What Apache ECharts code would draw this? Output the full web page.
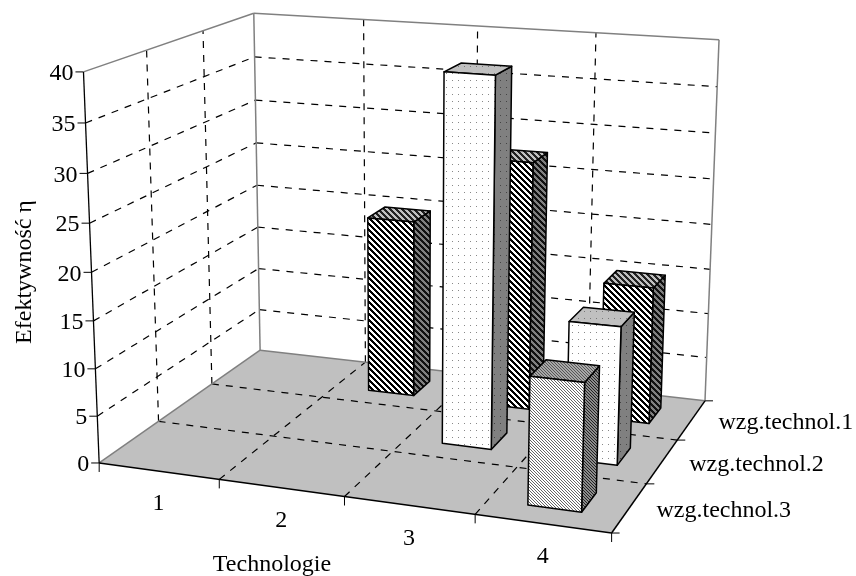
<!DOCTYPE html>
<html>
<head>
<meta charset="utf-8">
<title>Efektywność</title>
<script src="https://cdn.jsdelivr.net/npm/echarts@6/dist/echarts.min.js"></script>
<style>
  html, body { margin: 0; background: #fff; }
  #chart { width: 856px; height: 576px; }
</style>
</head>
<body>
<div id="chart"></div>
<script>
// chart data
const technologies = ['1', '2', '3', '4']
const depthNames = ['wzg.technol.3', 'wzg.technol.2', 'wzg.technol.1'] // front to back
const valueTicks = [0, 5, 10, 15, 20, 25, 30, 35, 40]
const wzg1 = [null, 19.8, 27.4, 15]
const wzg2 = [null, null, 39, 14.6]
const wzg3 = [null, null, null, 13]

const FONT = '24px "Liberation Serif", "Times New Roman", serif'
const DEPTH_COUNT = depthNames.length
const VALUE_MAX = 40
const BAR_W = 0.40   // bar width, share of one technology
const BAR_D = 0.40   // bar depth, share of one row

// where the box of the plot sits on the page: [u, v, w, px, py]
const anchors = [
  [0, 0, 0, 100, 463], [1, 0, 0, 219, 479], [2, 0, 0, 344, 497], [3, 0, 0, 475, 514], [4, 0, 0, 611.7, 533],
  [4, 1, 0, 647, 484], [4, 2, 0, 677, 440], [4, 3, 0, 705, 400.7],
  [0, 1, 0, 158, 422], [0, 2, 0, 212, 384], [0, 3, 0, 260, 350],
  [0, 0, 40, 83, 72], [0, 3, 40, 254, 13], [4, 3, 40, 719, 40],
  [0, 0, 20, 92, 272]
]

// least squares camera matrix from the anchors
function fitCamera(pts) {
  const rows = []
  pts.forEach(([u, v, w, x, y]) => {
    rows.push([u, v, w, 1, 0, 0, 0, 0, -x * u, -x * v, -x * w, x])
    rows.push([0, 0, 0, 0, u, v, w, 1, -y * u, -y * v, -y * w, y])
  })
  const n = 11
  const m = []
  for (let i = 0; i < n; i++) {
    m[i] = []
    for (let j = 0; j <= n; j++) {
      m[i][j] = rows.reduce((s, r) => s + r[i] * r[j], 0)
    }
  }
  for (let c = 0; c < n; c++) {
    let p = c
    for (let r = c + 1; r < n; r++) if (Math.abs(m[r][c]) > Math.abs(m[p][c])) p = r
    ;[m[c], m[p]] = [m[p], m[c]]
    for (let r = 0; r < n; r++) {
      if (r === c) continue
      const f = m[r][c] / m[c][c]
      for (let j = c; j <= n; j++) m[r][j] -= f * m[c][j]
    }
  }
  return m.map((r, i) => r[n] / r[i])
}
const cam = fitCamera(anchors)

function project(u, v, w) {
  const d = cam[8] * u + cam[9] * v + cam[10] * w + 1
  return [
    (cam[0] * u + cam[1] * v + cam[2] * w + cam[3]) / d,
    (cam[4] * u + cam[5] * v + cam[6] * w + cam[7]) / d
  ]
}

// fill patterns
function tile(w, h, bg, draw) {
  const c = document.createElement('canvas')
  c.width = w
  c.height = h
  const g = c.getContext('2d')
  g.fillStyle = bg
  g.fillRect(0, 0, w, h)
  draw(g)
  return { image: c, repeat: 'repeat' }
}
// hard edged diagonal, first "on" pixels of every "size" are painted
function diagonal(size, on, bg, fg) {
  return tile(size, size, bg, (g) => {
    g.fillStyle = fg
    for (let y = 0; y < size; y++) {
      for (let x = 0; x < size; x++) {
        if ((x - y + size) % size < on) g.fillRect(x, y, 1, 1)
      }
    }
  })
}
const stripes = (bg, fg) => diagonal(6, 3, bg, fg)
const fine = (bg, fg) => diagonal(3, 1, bg, fg)
function dots(bg, fg) {
  return tile(6, 7, bg, (g) => {
    g.fillStyle = fg
    g.fillRect(2, 3, 1, 1)
  })
}

const polygon = (points, fill) => ({
  type: 'polygon',
  shape: { points },
  style: { fill, stroke: '#000', lineWidth: 1.5, lineJoin: 'round' }
})
const segment = (a, b, stroke, lineWidth, lineDash) => ({
  type: 'line',
  shape: { x1: a[0], y1: a[1], x2: b[0], y2: b[1] },
  style: { stroke, lineWidth, lineDash }
})
const label = (text, x, y, align) => ({
  type: 'text',
  x, y,
  style: { text, font: FONT, fill: '#000', align: align || 'center', verticalAlign: 'middle' }
})

// one bar: u and w come from the axes, v from the row number
function barRenderer(row, faces) {
  return function (params, api) {
    const value = api.value(1)
    if (value == null || isNaN(value)) return
    const cs = params.coordSys
    const band = cs.width / technologies.length
    const center = api.coord([api.value(0), value])
    const u = (center[0] - cs.x) / band
    const w = (cs.y + cs.height - center[1]) / cs.height * VALUE_MAX
    const u0 = u - BAR_W / 2, u1 = u + BAR_W / 2
    const v0 = row + 0.5 - BAR_D / 2, v1 = row + 0.5 + BAR_D / 2
    return {
      type: 'group',
      children: [
        polygon([project(u1, v0, 0), project(u1, v1, 0), project(u1, v1, w), project(u1, v0, w)], faces.side),
        polygon([project(u0, v0, w), project(u1, v0, w), project(u1, v1, w), project(u0, v1, w)], faces.top),
        polygon([project(u0, v0, 0), project(u1, v0, 0), project(u1, v0, w), project(u0, v0, w)], faces.front)
      ]
    }
  }
}

// walls, floor, grid lines, ticks and all texts
function renderFrame() {
  const uMax = technologies.length, vMax = DEPTH_COUNT, wMax = VALUE_MAX
  const dash = [7, 7], gray = '#808080'
  const kids = []
  kids.push({
    type: 'polygon',
    shape: { points: [project(0, 0, 0), project(uMax, 0, 0), project(uMax, vMax, 0), project(0, vMax, 0)] },
    style: { fill: '#c0c0c0' }
  })
  valueTicks.slice(1, -1).forEach(t => {
    kids.push(segment(project(0, 0, t), project(0, vMax, t), '#000', 1.2, dash))
    kids.push(segment(project(0, vMax, t), project(uMax, vMax, t), '#000', 1.2, dash))
  })
  for (let i = 1; i < uMax; i++) {
    kids.push(segment(project(i, vMax, 0), project(i, vMax, wMax), '#000', 1.2, dash))
    kids.push(segment(project(i, 0, 0), project(i, vMax, 0), '#000', 1.2, dash))
  }
  for (let j = 1; j < vMax; j++) {
    kids.push(segment(project(0, j, 0), project(0, j, wMax), '#000', 1.2, dash))
    kids.push(segment(project(0, j, 0), project(uMax, j, 0), '#000', 1.2, dash))
  }
  // gray outline
  kids.push(segment(project(0, 0, wMax), project(0, vMax, wMax), gray, 1.5))
  kids.push(segment(project(0, vMax, wMax), project(uMax, vMax, wMax), gray, 1.5))
  kids.push(segment(project(uMax, vMax, wMax), project(uMax, vMax, 0), gray, 1.5))
  kids.push(segment(project(0, vMax, wMax), project(0, vMax, 0), gray, 1.5))
  kids.push(segment(project(0, 0, 0), project(0, vMax, 0), gray, 1.5))
  kids.push(segment(project(0, vMax, 0), project(uMax, vMax, 0), gray, 1.5))
  // black axes
  kids.push(segment(project(0, 0, 0), project(0, 0, wMax), '#000', 1.3))
  kids.push(segment(project(0, 0, 0), project(uMax, 0, 0), '#000', 1.5))
  kids.push(segment(project(uMax, 0, 0), project(uMax, vMax, 0), '#000', 1.5))
  valueTicks.forEach(t => {
    const p = project(0, 0, t)
    kids.push(segment([p[0] - 8, p[1]], p, '#000', 1))
    kids.push(label(String(t), p[0] - 10, p[1] + 2, 'right'))
  })
  for (let i = 0; i <= uMax; i++) {
    const p = project(i, 0, 0)
    kids.push(segment(p, [p[0], p[1] + 9], '#000', 1))
  }
  for (let j = 0; j <= vMax; j++) {
    const p = project(uMax, j, 0)
    kids.push(segment(p, [p[0] + 8, p[1]], '#000', 1))
  }
  technologies.forEach((t, i) => {
    const p = project(i + 0.5, 0, 0)
    kids.push(label(t, p[0], p[1] + 33))
  })
  depthNames.forEach((name, j) => {
    const p = project(uMax, j + 0.5, 0)
    kids.push(label(name, p[0] + 27, p[1] + 3, 'left'))
  })
  kids.push(label('Technologie', 272, 565))
  kids.push(Object.assign(label('Efektywność η', 25, 272), { rotation: Math.PI / 2 }))
  return { type: 'group', children: kids }
}

const toPairs = values => values.map((v, i) => [i, v])

const chart = echarts.init(document.getElementById('chart'))
chart.setOption({
  animation: false,
  backgroundColor: '#fff',
  grid: { left: 0, right: 0, top: 0, bottom: 0 },
  xAxis: { type: 'category', data: technologies, show: false },
  yAxis: { type: 'value', min: 0, max: VALUE_MAX, interval: 5, show: false },
  series: [
    { type: 'custom', name: 'frame', renderItem: renderFrame, data: [[0, 0]], silent: true },
    {
      type: 'custom', name: 'wzg.technol.1', data: toPairs(wzg1), encode: { x: 0, y: 1 },
      renderItem: barRenderer(2, {
        front: stripes('#fff', '#000'), top: stripes('#c0c0c0', '#222'), side: stripes('#808080', '#111')
      })
    },
    {
      type: 'custom', name: 'wzg.technol.2', data: toPairs(wzg2), encode: { x: 0, y: 1 },
      renderItem: barRenderer(1, {
        front: dots('#fff', '#888'), top: dots('#c0c0c0', '#777'), side: dots('#808080', '#444')
      })
    },
    {
      type: 'custom', name: 'wzg.technol.3', data: toPairs(wzg3), encode: { x: 0, y: 1 },
      renderItem: barRenderer(0, {
        front: fine('#fff', '#666'), top: fine('#a8a8a8', '#555'), side: fine('#8c8c8c', '#222')
      })
    }
  ]
})
</script>
</body>
</html>
